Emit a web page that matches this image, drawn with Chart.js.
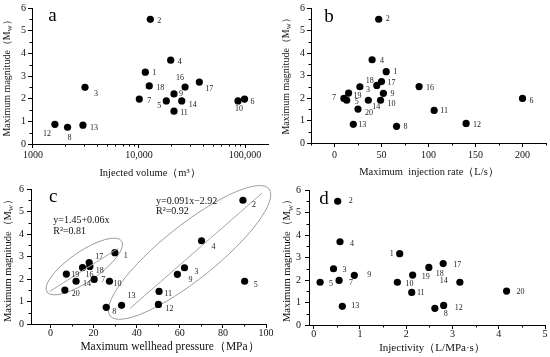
<!DOCTYPE html>
<html>
<head>
<meta charset="utf-8">
<title>Maximum magnitude vs injection parameters</title>
<script src="https://cdn.jsdelivr.net/npm/chart.js@4.4.1/dist/chart.umd.min.js"></script>
<style>
  html, body { margin:0; padding:0; background:#fff; }
  #wrap { position:relative; width:550px; height:357px; overflow:hidden; background:#fff; }
  #wrap canvas { position:absolute; }
</style>
</head>
<body>
<div id="wrap">
  <canvas id="ca" width="275" height="180" style="left:0px;top:0px"></canvas>
  <canvas id="cb" width="275" height="180" style="left:275px;top:0px"></canvas>
  <canvas id="cc" width="275" height="177" style="left:0px;top:180px"></canvas>
  <canvas id="cd" width="275" height="177" style="left:275px;top:180px"></canvas>
</div>
<script>
// ================= DATA =================
// Event numbers and their maximum magnitude (Mw)
const eventIds  = [1, 2, 3, 4, 5, 6, 7, 8, 9, 10, 11, 12, 13, 14, 16, 17, 18, 19, 20];
const magnitude = [3.17, 5.50, 2.50, 3.70, 1.90, 1.98, 1.98, 0.74, 2.21, 1.90, 1.45, 0.87, 0.83, 1.90, 2.51, 2.73, 2.56, 2.22, 1.51];

// (a) Injected volume (m3)
const idsA    = [1, 2, 3, 4, 5, 6, 7, 8, 9, 10, 11, 12, 13, 14, 16, 17, 18];
const volumeA = [11470, 12790, 3095, 19900, 18100, 99000, 10070, 2120, 21400, 85900, 21400, 1610, 2960, 25300, 27200, 37100, 12500];
const xTicksA = [1000, 10000, 100000];
const xTickLabelsA = ['1000', '10,000', '100,000'];

// (b) Maximum injection rate (L/s)
const idsB  = [1, 2, 3, 4, 5, 6, 7, 8, 9, 10, 11, 12, 13, 14, 16, 17, 18, 19, 20];
const rateB = [55, 47, 27, 40, 13, 200, 10, 66, 52, 49, 106, 140, 20, 36, 90, 50, 45, 15, 25];
const xTicksB = [0, 50, 100, 150, 200];

// (c) Maximum wellhead pressure (MPa)
const idsC      = [1, 2, 3, 4, 5, 7, 8, 9, 10, 11, 12, 13, 14, 16, 17, 18, 19, 20];
const pressureC = [29.9, 89.3, 62.2, 70.1, 90.1, 20.3, 25.9, 58.9, 27.4, 50.4, 50.1, 33.0, 11.9, 14.9, 18.0, 18.3, 7.4, 6.7];
const xTicksC = [0, 20, 40, 60, 80, 100];
// fitted trend lines (end points) and equations
const trendLowX  = [-0.3, 31.4];
const trendLowY  = [1.45, 3.36];
const trendHighX = [36.9, 98.1];
const trendHighY = [0.69, 5.81];
const eqLow  = ['y=1.45+0.06x', 'R²=0.81'];
const eqHigh = ['y=0.091x−2.92', 'R²=0.92'];
// grouping ellipses: ends of the major axis in data units
const ellipseLow  = [[-1.6, 1.42], [33.0, 3.69]];
const ellipseHigh = [[27.7, 0.36], [101.4, 6.0]];

// (d) Injectivity (L/MPa·s)
const idsD         = [1, 2, 3, 4, 5, 7, 8, 9, 10, 11, 12, 13, 14, 17, 18, 19, 20];
const injectivityD = [1.86, 0.52, 0.43, 0.57, 0.14, 0.55, 2.62, 0.88, 1.81, 2.12, 2.81, 0.62, 3.16, 2.80, 2.49, 2.14, 4.17];
const xTicksD = [0, 1, 2, 3, 4, 5];

// Shared y axis
const yTicks = [0, 1, 2, 3, 4, 5, 6];
const yMinor = [0.5, 1.5, 2.5, 3.5, 4.5, 5.5];

// ================= STYLE / LAYOUT =================
const SERIF = '"Liberation Serif", "Times New Roman", "DejaVu Serif", serif';

// label offsets (px) relative to each point
const offA = {1:[9,1],2:[9,2],3:[11,7],4:[9,2],5:[-7,5],6:[8,3],7:[10,2],8:[2,11],9:[7,0],10:[1,8],11:[10,2],12:[-8,10],13:[11,3],14:[11,4],16:[-5,-9],17:[10,7],18:[11,2]};
const offB = {1:[9,0],2:[9,0],3:[8,3],4:[10,1],5:[10,2],6:[9,2],7:[-10,-1],8:[9,1],9:[9,1],10:[11,4],11:[10,1],12:[11,1],13:[9,1],14:[8,7],16:[11,1],17:[10,1],18:[-7,-4],19:[9,3],20:[11,4]};
const offC = {1:[11,3],2:[11,5],3:[12,4],4:[12,6],5:[11,4],7:[9,0],8:[8,5],9:[13,6],10:[8,3],11:[9,3],12:[11,4],13:[10,-9],14:[11,3],16:[7,7],17:[10,-6],18:[10,5],19:[9,1],20:[11,4]};
const offD = {1:[-8,0],2:[13,0],3:[11,1],4:[12,2],5:[11,2],7:[12,2],8:[11,6],9:[15,0],10:[12,2],11:[9,1],12:[15,2],13:[13,0],14:[-16,-1],17:[14,1],18:[11,7],19:[13,2],20:[14,1]};

function mw(id) { return magnitude[eventIds.indexOf(id)]; }
function steps(a, b, s) { const r = []; for (let v = a; v <= b + 1e-9; v += s) r.push(+v.toFixed(6)); return r; }
const logMinorA = [2,3,4,5,6,7,8,9].map(m => m * 1000).concat([2,3,4,5,6,7,8,9].map(m => m * 10000));

const panels = [
  { canvas:'ca', box:{left:0, top:0, w:275, h:180}, area:{left:32, right:268, top:7, bottom:144},
    xType:'logarithmic', xMin:979, xMax:164800, ids:idsA, xs:volumeA, xTicks:xTicksA, xLabels:xTickLabelsA,
    xMinor:logMinorA, offsets:offA, xPad:1, yPad:2,
    letter:'a', letterPos:[48.3, 20.7], xTitle:'Injected volume（m³）', xTitlePos:[150, 173], xTitleSize:10.5,
    yTitlePos:[7.5, 76], yTitleSize:10 },
  { canvas:'cb', box:{left:275, top:0, w:275, h:180}, area:{left:36, right:272, top:7, bottom:143},
    xType:'linear', xMin:-25, xMax:225, ids:idsB, xs:rateB, xTicks:xTicksB, xLabels:xTicksB.map(String),
    xMinor:steps(-25, 225, 50), offsets:offB, xPad:2, yPad:2,
    letter:'b', letterPos:[324.3, 21.7], xTitle:'Maximum  injection rate（L/s）', xTitlePos:[429, 172.7], xTitleSize:10.5,
    yTitlePos:[286.7, 74], yTitleSize:10 },
  { canvas:'cc', box:{left:0, top:180, w:275, h:177}, area:{left:31, right:266, top:7, bottom:144},
    xType:'linear', xMin:-9, xMax:100, ids:idsC, xs:pressureC, xTicks:xTicksC, xLabels:xTicksC.map(String),
    xMinor:steps(10, 90, 20), offsets:offC, xPad:-1, yPad:3,
    letter:'c', letterPos:[49, 202.3], xTitle:'Maximum wellhead pressure（MPa）', xTitlePos:[170, 347], xTitleSize:11.5,
    yTitlePos:[8, 258], yTitleSize:10.5,
    trends:[[trendLowX, trendLowY], [trendHighX, trendHighY]],
    ellipses:[{ends:ellipseLow, minor:15}, {ends:ellipseHigh, minor:27}],
    eqs:[{lines:eqLow, pos:[53.3, 220.5]}, {lines:eqHigh, pos:[156, 201]}] },
  { canvas:'cd', box:{left:275, top:180, w:275, h:177}, area:{left:34, right:270, top:9, bottom:145},
    xType:'linear', xMin:-0.1, xMax:5, ids:idsD, xs:injectivityD, xTicks:xTicksD, xLabels:xTicksD.map(String),
    xMinor:steps(0.5, 4.5, 1), offsets:offD, xPad:-1, yPad:4,
    letter:'d', letterPos:[319.3, 204.3], xTitle:'Injectivity（L/MPa·s）', xTitlePos:[432, 348], xTitleSize:11,
    yTitlePos:[287.7, 258], yTitleSize:10.5 }
];

function drawYTitle(ctx, cx, cy, size) {
  const main = 'Maximum magnitude（M', sub = 'W', end = '）';
  const subSize = size * 0.62;
  ctx.save();
  ctx.translate(cx, cy);
  ctx.rotate(-Math.PI / 2);
  ctx.fillStyle = '#111';
  ctx.textBaseline = 'middle';
  ctx.textAlign = 'left';
  ctx.font = size + 'px ' + SERIF;
  const w1 = ctx.measureText(main).width, w3 = ctx.measureText(end).width;
  ctx.font = subSize + 'px ' + SERIF;
  const w2 = ctx.measureText(sub).width;
  let x = -(w1 + w2 + w3) / 2;
  ctx.font = size + 'px ' + SERIF; ctx.fillText(main, x, 0); x += w1;
  ctx.font = subSize + 'px ' + SERIF; ctx.fillText(sub, x, size * 0.3); x += w2;
  ctx.font = size + 'px ' + SERIF; ctx.fillText(end, x, 0);
  ctx.restore();
}

const decoPlugin = {
  id: 'deco',
  beforeDatasetsDraw(chart, args, o) {
    const p = o.panel;
    if (!p.ellipses) return;
    const ctx = chart.ctx, xs = chart.scales.x, ys = chart.scales.y;
    ctx.save();
    ctx.strokeStyle = '#9c9c9c';
    ctx.lineWidth = 1;
    p.ellipses.forEach(e => {
      const x1 = xs.getPixelForValue(e.ends[0][0]), y1 = ys.getPixelForValue(e.ends[0][1]);
      const x2 = xs.getPixelForValue(e.ends[1][0]), y2 = ys.getPixelForValue(e.ends[1][1]);
      const cx = (x1 + x2) / 2, cy = (y1 + y2) / 2;
      const a = Math.hypot(x2 - x1, y2 - y1) / 2, ang = Math.atan2(y2 - y1, x2 - x1);
      ctx.beginPath();
      ctx.ellipse(cx, cy, a, e.minor, ang, 0, Math.PI * 2);
      ctx.stroke();
    });
    ctx.restore();
  },
  afterDraw(chart, args, o) {
    const p = o.panel;
    const ctx = chart.ctx, xs = chart.scales.x, ys = chart.scales.y, ca = chart.chartArea;
    const ox = p.box.left, oy = p.box.top;
    ctx.save();
    // minor ticks
    ctx.strokeStyle = '#000';
    ctx.lineWidth = 1;
    p.xMinor.forEach(v => {
      const px = Math.round(xs.getPixelForValue(v)) + 0.5;
      ctx.beginPath(); ctx.moveTo(px, ca.bottom); ctx.lineTo(px, ca.bottom + 2.5); ctx.stroke();
    });
    yMinor.forEach(v => {
      const py = Math.round(ys.getPixelForValue(v)) + 0.5;
      ctx.beginPath(); ctx.moveTo(ca.left, py); ctx.lineTo(ca.left - 2.5, py); ctx.stroke();
    });
    // point labels
    const meta = chart.getDatasetMeta(chart.data.datasets.length - 1);
    ctx.font = '8px ' + SERIF;
    ctx.fillStyle = '#222';
    ctx.textAlign = 'center';
    ctx.textBaseline = 'middle';
    meta.data.forEach((el, i) => {
      const id = p.ids[i];
      const off = p.offsets[id] || [9, 1];
      ctx.fillText(String(id), el.x + off[0], el.y + off[1]);
    });
    // equations
    if (p.eqs) {
      ctx.font = '10px ' + SERIF;
      ctx.fillStyle = '#111';
      ctx.textAlign = 'left';
      p.eqs.forEach(e => {
        e.lines.forEach((t, k) => ctx.fillText(t, e.pos[0] - ox, e.pos[1] - oy + k * 10.8));
      });
    }
    // panel letter
    ctx.font = '19px ' + SERIF;
    ctx.fillStyle = '#000';
    ctx.textAlign = 'left';
    ctx.textBaseline = 'alphabetic';
    ctx.fillText(p.letter, p.letterPos[0] - ox, p.letterPos[1] - oy);
    // x title
    ctx.font = p.xTitleSize + 'px ' + SERIF;
    ctx.fillStyle = '#111';
    ctx.textAlign = 'center';
    ctx.textBaseline = 'middle';
    ctx.fillText(p.xTitle, p.xTitlePos[0] - ox, p.xTitlePos[1] - oy);
    ctx.restore();
    // y title
    drawYTitle(ctx, p.yTitlePos[0] - ox, p.yTitlePos[1] - oy, p.yTitleSize);
  }
};

panels.forEach(p => {
  const datasets = [];
  (p.trends || []).forEach(t => {
    datasets.push({
      data: t[0].map((x, i) => ({ x: x, y: t[1][i] })),
      showLine: true, borderColor: '#a5a5a5', borderWidth: 1, pointRadius: 0, fill: false
    });
  });
  datasets.push({
    data: p.ids.map((id, i) => ({ x: p.xs[i], y: mw(id) })),
    backgroundColor: '#000', borderColor: '#000', borderWidth: 0, pointRadius: 3.6, clip: false
  });
  const tickFont = { family: SERIF, size: 10 };
  new Chart(document.getElementById(p.canvas), {
    type: 'scatter',
    data: { datasets: datasets },
    plugins: [decoPlugin],
    options: {
      responsive: false, animation: false, maintainAspectRatio: false,
      layout: { padding: { left: 0, top: p.area.top, right: p.box.w - p.area.right, bottom: 0 } },
      events: [],
      plugins: { legend: { display: false }, tooltip: { enabled: false }, deco: { panel: p } },
      scales: {
        x: {
          type: p.xType, min: p.xMin, max: p.xMax,
          afterBuildTicks: s => { s.ticks = p.xTicks.map(v => ({ value: v })); },
          afterFit: s => { s.height = p.box.h - p.area.bottom; },
          ticks: { callback: (v, i) => p.xLabels[i], font: tickFont, color: '#111', padding: p.xPad, maxRotation: 0, autoSkip: false },
          grid: { display: true, drawOnChartArea: false, drawTicks: true, tickLength: 4, color: '#000', lineWidth: 1 },
          border: { display: true, color: '#000', width: 1 }
        },
        y: {
          type: 'linear', min: 0, max: 6,
          afterBuildTicks: s => { s.ticks = yTicks.map(v => ({ value: v })); },
          afterFit: s => { s.width = p.area.left; },
          ticks: { callback: v => String(v), font: tickFont, color: '#111', padding: p.yPad, autoSkip: false },
          grid: { display: true, drawOnChartArea: false, drawTicks: true, tickLength: 4, color: '#000', lineWidth: 1 },
          border: { display: true, color: '#000', width: 1 }
        }
      }
    }
  });
});
</script>
</body>
</html>
